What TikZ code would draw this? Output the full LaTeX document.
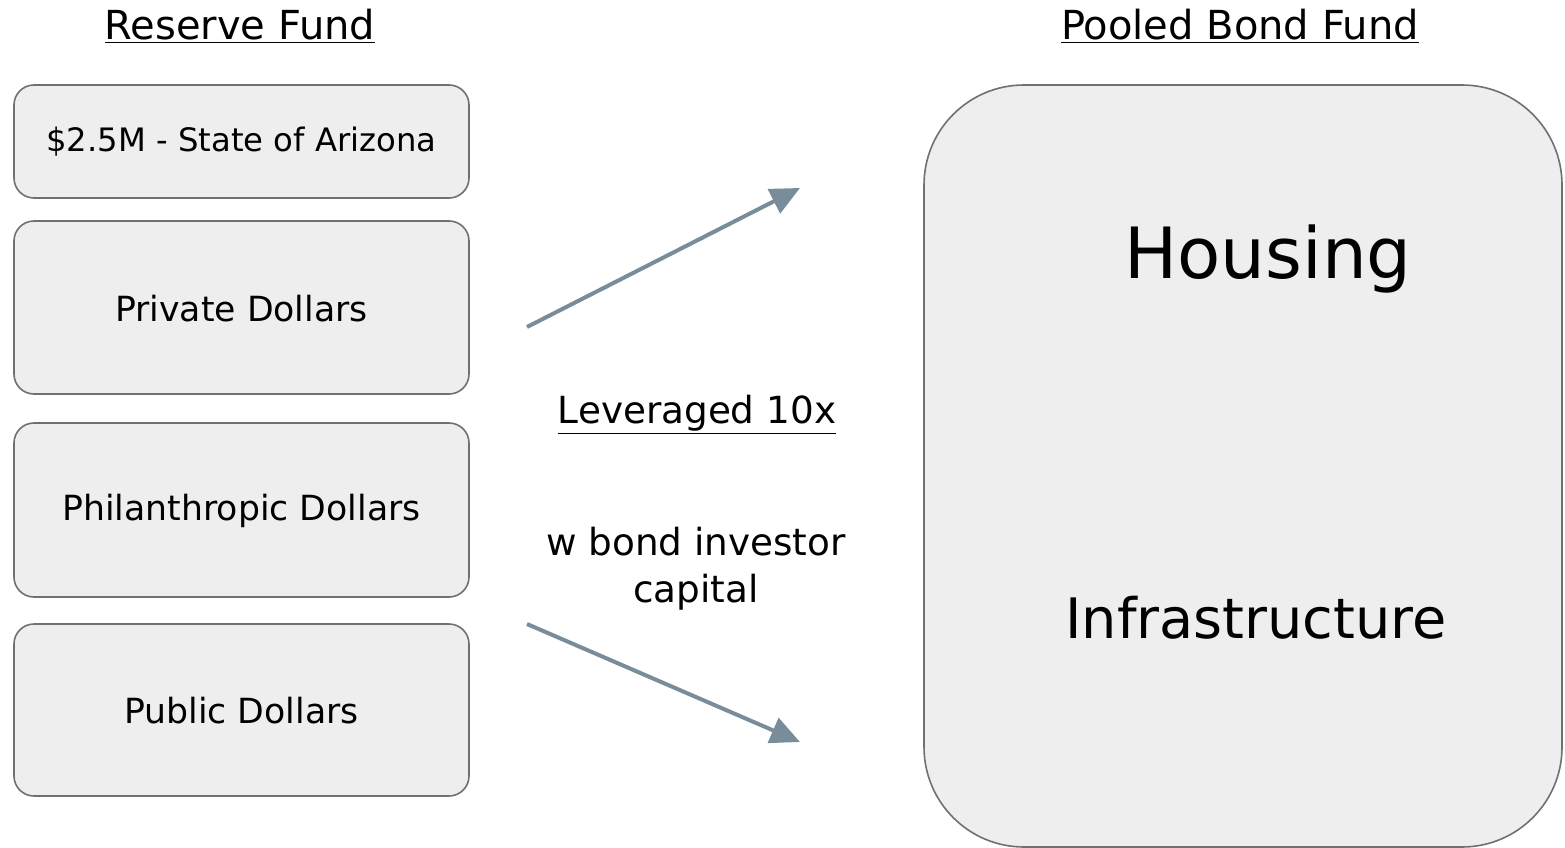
\documentclass[tikz,border=0pt]{standalone}
\usepackage{fontspec}
\setmainfont{DejaVu Sans}
\usetikzlibrary{arrows.meta}
\definecolor{boxfill}{HTML}{EEEEEE}
\definecolor{boxline}{HTML}{707070}
\definecolor{arrowcol}{HTML}{788D99}
\tikzset{
  fundbox/.style={draw=boxline, line width=1.2pt, fill=boxfill, rounded corners=15pt},
  boxtext/.style={font=\fontsize{26}{30}\selectfont, text=black},
  title/.style={font=\fontsize{30}{36}\selectfont, text=black},
  midtext/.style={font=\fontsize{28}{35}\selectfont, text=black},
  flow/.style={draw=arrowcol, line width=3pt, -{Triangle[length=22pt,width=20pt]}},
}
\begin{document}
\begin{tikzpicture}[x=0.75pt,y=-0.75pt]
\useasboundingbox (0,0) rectangle (1565,848);
% titles
\node[title] (rf) at (240,26) {\underline{Reserve Fund}};
\node[title] (pbf) at (1240,26) {\underline{Pooled Bond Fund}};
% left boxes
\path[fundbox] (14,85) rectangle (469,198);
\node[boxtext, font=\fontsize{24.2}{28}\selectfont] (b1) at (241.5,142) {\$2.5M - State of Arizona};
\path[fundbox] (14,221) rectangle (469,394);
\node[boxtext] (b2) at (241.5,308.5) {Private Dollars};
\path[fundbox] (14,423) rectangle (469,597);
\node[boxtext] (b3) at (241.5,511) {Philanthropic Dollars};
\path[fundbox] (14,624) rectangle (469,796);
\node[boxtext] (b4) at (241.5,711) {Public Dollars};
% big box
\path[fundbox, rounded corners=75pt] (924,85) rectangle (1562,847);
\node[font=\fontsize{53}{60}\selectfont] (hous) at (1268,259) {Housing};
\node[font=\fontsize{41.8}{48}\selectfont] (infra) at (1256,618) {Infrastructure};
% middle text
\node[midtext] (lev) at (697,415) {\underline{Leveraged 10x}};
\node[midtext, align=center] (wbond) at (696,569) {w bond investor\\capital};
% arrows
\coordinate (a1s) at (527,327);
\coordinate (a1e) at (800,188);
\coordinate (a2s) at (527,624);
\coordinate (a2e) at (800,742);
\draw[flow] (a1s) -- (a1e);
\draw[flow] (a2s) -- (a2e);
\end{tikzpicture}
\end{document}
